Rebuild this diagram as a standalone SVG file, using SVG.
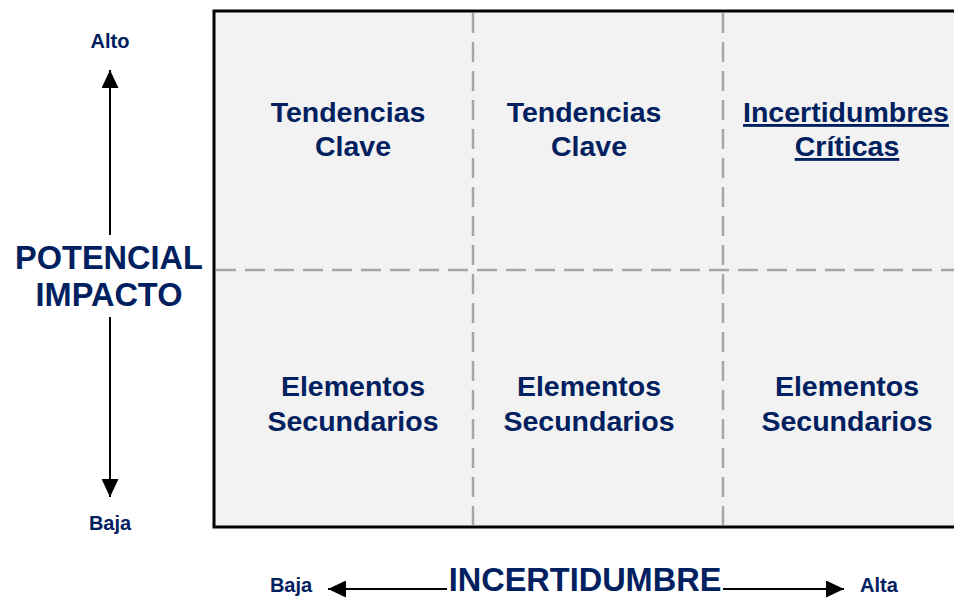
<svg xmlns="http://www.w3.org/2000/svg" width="954" height="598" viewBox="0 0 954 598">
<style>
.t{font-family:"Liberation Sans",Arial,sans-serif;font-weight:bold;fill:#002060;text-anchor:middle}
.cell{font-size:28.5px}
.big{font-size:32.5px}
.sm{font-size:20px}
.dash{stroke:#a6a6a6;stroke-width:2.5;stroke-dasharray:20 9;fill:none}
.ax{stroke:#000;stroke-width:2;fill:none}
</style>
<defs>
<marker id="ahb" viewBox="0 0 18 17" refX="18" refY="8.5" markerWidth="18" markerHeight="17" markerUnits="userSpaceOnUse" orient="auto">
<path d="M0,0 L18,8.5 L0,17 z" fill="#000"/>
</marker>
</defs>
<g id="matrix">
<rect x="214" y="11" width="760" height="516" fill="#f2f2f2" stroke="#000" stroke-width="3"/>
</g>
<g id="grid">
<line class="dash" x1="473" y1="13" x2="473" y2="525"/>
<line class="dash" x1="723" y1="13" x2="723" y2="525"/>
<line class="dash" x1="216" y1="270" x2="954" y2="270"/>
</g>
<g id="connectors">
<line class="ax" x1="110" y1="235" x2="110" y2="70" marker-end="url(#ahb)"/>
<line class="ax" x1="110" y1="317" x2="110" y2="497" marker-end="url(#ahb)"/>
<line class="ax" x1="447" y1="589" x2="328" y2="589" marker-end="url(#ahb)"/>
<line class="ax" x1="723" y1="589" x2="844" y2="589" marker-end="url(#ahb)"/>
</g>
<g id="cell-1-1"><text class="t cell" x="348" y="122">Tendencias</text><text class="t cell" x="353" y="156">Clave</text></g>
<g id="cell-1-2"><text class="t cell" x="584" y="122">Tendencias</text><text class="t cell" x="589" y="156">Clave</text></g>
<g id="cell-1-3"><text class="t cell" x="846" y="122" text-decoration="underline">Incertidumbres</text><text class="t cell" x="847" y="156" text-decoration="underline">Críticas</text></g>
<g id="cell-2-1"><text class="t cell" x="353" y="396">Elementos</text><text class="t cell" x="353" y="431">Secundarios</text></g>
<g id="cell-2-2"><text class="t cell" x="589" y="396">Elementos</text><text class="t cell" x="589" y="431">Secundarios</text></g>
<g id="cell-2-3"><text class="t cell" x="847" y="396">Elementos</text><text class="t cell" x="847" y="431">Secundarios</text></g>
<g id="y-axis">
<text class="t sm" x="110" y="48">Alto</text>
<text class="t big" x="109" y="269">POTENCIAL</text>
<text class="t big" x="109" y="306">IMPACTO</text>
<text class="t sm" x="110" y="530">Baja</text>
</g>
<g id="x-axis">
<text class="t sm" x="291" y="592">Baja</text>
<text class="t big" x="585" y="591">INCERTIDUMBRE</text>
<text class="t sm" x="879" y="592">Alta</text>
</g>
</svg>
